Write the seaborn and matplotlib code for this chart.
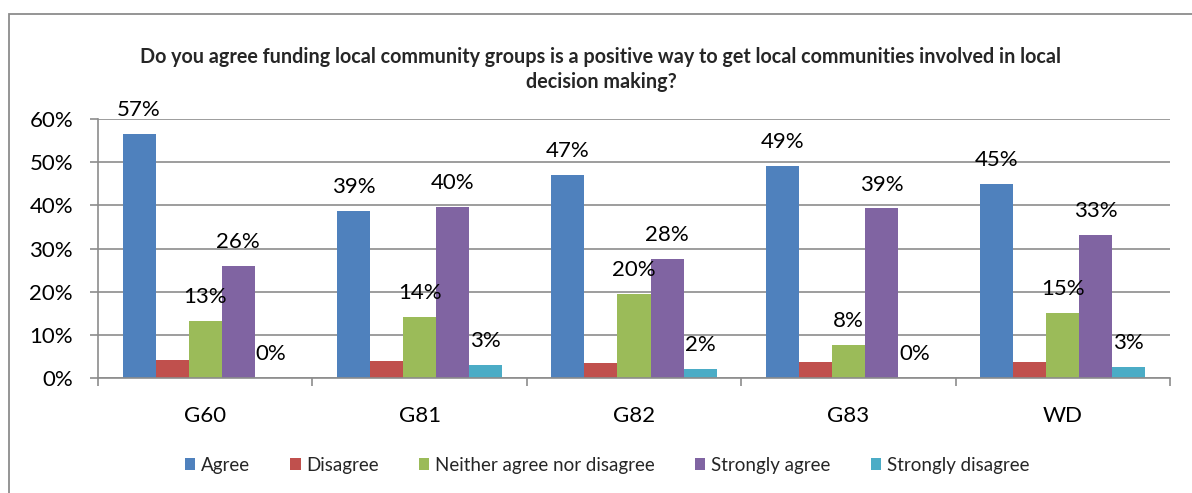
import matplotlib
matplotlib.use("Agg")
import matplotlib.pyplot as plt
from matplotlib.patches import Rectangle
from matplotlib.ticker import FixedLocator
import seaborn as sns
import pandas as pd

# Survey responses by area (percent of respondents)
groups = ["G60", "G81", "G82", "G83", "WD"]
responses = ["Agree", "Disagree", "Neither agree nor disagree",
             "Strongly agree", "Strongly disagree"]
agree = [56.6, 38.8, 47.1, 49.1, 45.0]
disagree = [4.3, 4.1, 3.5, 3.8, 3.8]
neither = [13.2, 14.3, 19.6, 7.8, 15.2]
strongly_agree = [26.1, 39.7, 27.6, 39.3, 33.1]
strongly_disagree = [0.0, 3.0, 2.2, 0.0, 2.6]
yticks = [0, 10, 20, 30, 40, 50, 60]

# responses that carry a value label above their bars
labelled = ["Agree", "Neither agree nor disagree", "Strongly agree", "Strongly disagree"]
colors = ["#4F81BD", "#C0504D", "#9BBB59", "#8064A2", "#4BACC6"]
title = ("Do you agree funding local community groups is a positive way to get local communities involved in local\n"
         "decision making?")

series = [agree, disagree, neither, strongly_agree, strongly_disagree]
rows = []
for resp, vals in zip(responses, series):
    for g, v in zip(groups, vals):
        rows.append({"group": g, "response": resp, "share": v})
df = pd.DataFrame(rows)

sns.set_theme(style="white")
plt.rcParams["font.family"] = ["Lato", "DejaVu Sans"]

W, H = 1192, 493
fig = plt.figure(figsize=(W / 100, H / 100), dpi=100)
fig.patch.set_facecolor("white")

x0, x1, y0, y1 = 98, 1170, 378.3, 119
ax = fig.add_axes([x0 / W, 1 - y0 / H, (x1 - x0) / W, (y0 - y1) / H])

sns.barplot(data=df, x="group", y="share", hue="response", order=groups,
            hue_order=responses, palette=colors, width=0.77, saturation=1,
            linewidth=0, errorbar=None, ax=ax)

grey = "#8C8C8C"
lab_size = 16
ax.set_xlim(-0.5, len(groups) - 0.5)
ax.set_ylim(0, 60)
ax.set_yticks(yticks)
ax.set_yticklabels([f"{t}%" for t in yticks])
ax.yaxis.grid(True, color=grey, linewidth=1.2)
ax.set_axisbelow(True)
ax.set_xlabel("")
ax.set_ylabel("")
for side in ["top", "right"]:
    ax.spines[side].set_visible(False)
for side in ["left", "bottom"]:
    ax.spines[side].set_color(grey)
    ax.spines[side].set_linewidth(1.2)

ax.tick_params(axis="y", left=True, length=6, width=1.2, color=grey, pad=12,
               labelsize=lab_size, labelcolor="black")
ax.tick_params(axis="x", which="major", bottom=False, length=0, pad=20,
               labelsize=lab_size, labelcolor="black")
ax.xaxis.set_minor_locator(FixedLocator([i - 0.5 for i in range(len(groups) + 1)]))
ax.tick_params(axis="x", which="minor", bottom=True, length=6, width=1.2, color=grey)

# value labels above bars
for resp, cont in zip(responses, ax.containers):
    if resp not in labelled:
        continue
    vals = series[responses.index(resp)]
    for bar, v in zip(cont, vals):
        ax.annotate(f"{v:.0f}%", (bar.get_x() + bar.get_width() / 2, bar.get_height()),
                    xytext=(0, 10), textcoords="offset points", ha="center",
                    va="bottom", fontsize=lab_size, color="black", annotation_clip=False)

leg = ax.legend(loc="center", bbox_to_anchor=(607 / W, 1 - 465 / H),
                bbox_transform=fig.transFigure, ncol=5, frameon=False,
                handlelength=0.55, handleheight=0.55, handletextpad=0.3,
                columnspacing=2.15, fontsize=13.5)

fig.text(601 / W, 1 - 69.6 / H, title, ha="center", va="center", fontsize=14.2,
         fontweight="bold", linespacing=1.35)

# chart border
fig.add_artist(Rectangle((9 / W, -0.1), 1.2, 1.1 - 14 / H, transform=fig.transFigure,
                         fill=False, edgecolor="#8C8C8C", linewidth=1.3))

fig.savefig("out.png", dpi=100)
